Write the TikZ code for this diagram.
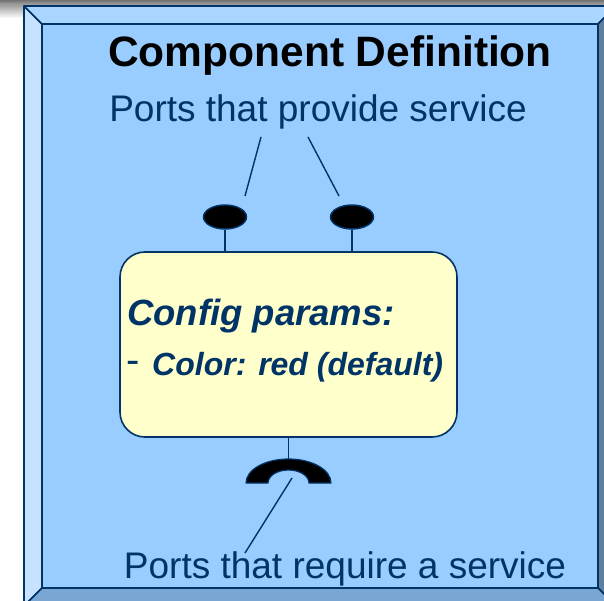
\documentclass[tikz,border=0pt]{standalone}
\usepackage{fontspec}
\setmainfont{Liberation Sans}
\usetikzlibrary{shapes.geometric}
\definecolor{navy}{HTML}{003366}
\definecolor{bgblue}{HTML}{99CCFF}
\definecolor{topbev}{HTML}{AAD5FF}
\definecolor{leftbev}{HTML}{C6E2FF}
\definecolor{botbev}{HTML}{7AA6D3}
\definecolor{rightbev}{HTML}{5F7F9F}
\definecolor{paleyellow}{HTML}{FFFFCC}
\begin{document}
\begin{tikzpicture}[x=1pt,y=-1pt,
  outline/.style={draw=navy,line width=1.6pt,line join=round},
  port/.style={ellipse,fill=black,draw=navy,line width=1.4pt,minimum width=43pt,minimum height=24pt,inner sep=0pt},
  stem/.style={draw=navy,line width=1.4pt},
  pointer/.style={draw=navy,line width=1.4pt},
  label/.style={text=navy,font=\fontsize{37}{42}\selectfont,inner sep=0pt,anchor=base}]
\useasboundingbox (0,0) rectangle (604,601);
% shadow strip at top
\shade[top color=gray!90!black,bottom color=gray!60] (0,0) rectangle (604,6);
\shade[top color=gray!70,bottom color=white] (0,6) rectangle (24,18);
% bevelled frame
\fill[bgblue] (42,24) rectangle (598,588);
\filldraw[fill=leftbev,outline] (24,6) -- (42,24) -- (42,588) -- (24,606) -- cycle;
\filldraw[fill=topbev,outline] (24,6) -- (616,6) -- (598,24) -- (42,24) -- cycle;
\filldraw[fill=rightbev,outline] (616,6) -- (616,606) -- (598,588) -- (598,24) -- cycle;
\filldraw[fill=botbev,outline] (24,606) -- (42,588) -- (598,588) -- (616,606) -- cycle;
% texts
\node[inner sep=0pt,anchor=base,font=\fontsize{42.5}{50}\selectfont\bfseries] (title) at (330,67) {Component Definition};
\node[label] (provide) at (318,122) {Ports that provide service};
\node[label] (require) at (345,578) {Ports that require a service};
% component box
\node[draw=navy,line width=1.6pt,fill=paleyellow,rounded corners=25pt,minimum width=337pt,minimum height=185pt,inner sep=0pt] (comp) at (288.5,344.5) {};
\node[anchor=base west,inner sep=0pt,text=navy,font=\fontsize{36.5}{42}\selectfont\bfseries\itshape] (cfg) at (127,325) {Config params:};
\node[anchor=base west,inner sep=0pt,text=navy,font=\fontsize{40}{44}\selectfont] (dash) at (126,373) {-};
\node[anchor=base west,inner sep=0pt,text=navy,font=\fontsize{32}{36}\selectfont\bfseries\itshape] (color) at (152,375) {Color: red (default)};
% provided ports
\node[port] (p1) at (225,217) {};
\node[port] (p2) at (352,217) {};
\draw[stem] (p1.south) -- (p1.south |- comp.north);
\draw[stem] (p2.south) -- (p2.south |- comp.north);
\coordinate (l1a) at (261,137);
\coordinate (l1b) at (245,196);
\coordinate (l2a) at (308,137);
\coordinate (l2b) at (339,196);
\draw[pointer] (l1a) -- (l1b);
\draw[pointer] (l2a) -- (l2b);
% required port
\coordinate (rq) at (288.5,459);
\draw[stem] (comp.south) -- (rq);
\filldraw[fill=black,draw=navy,line width=1.2pt,line join=round]
  (246,483) arc[start angle=180,end angle=0,x radius=42.5,y radius=-24]
  -- (309,483) arc[start angle=0,end angle=180,x radius=20.5,y radius=-13] -- cycle;
\coordinate (r1a) at (292,478);
\coordinate (r1b) at (245,553);
\draw[pointer] (r1a) -- (r1b);
\end{tikzpicture}
\end{document}
